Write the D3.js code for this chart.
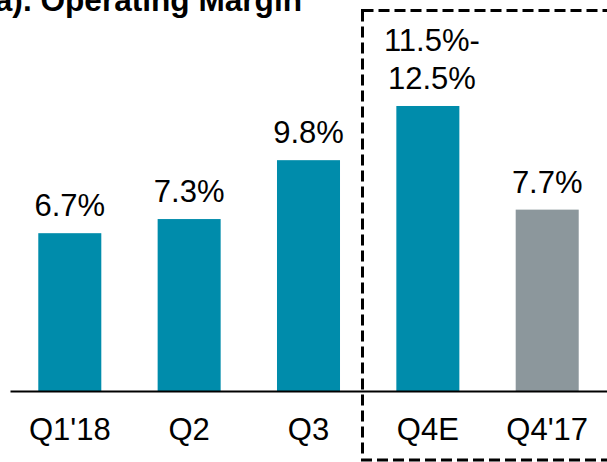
<!DOCTYPE html>
<html>
<head>
<meta charset="utf-8">
<script src="https://cdn.jsdelivr.net/npm/d3@7"></script>
<style>
  html, body { margin: 0; padding: 0; background: #fff; }
  svg { display: block; font-family: "Liberation Sans", Arial, sans-serif; }
</style>
</head>
<body>
<svg id="chart" width="607" height="462"></svg>
<script>
// ---- data ----
const categories = ["Q1'18", "Q2", "Q3", "Q4E", "Q4'17"];
const values = [6.7, 7.3, 9.8, 12.1, 7.7];
const valueLabels = [["6.7%"], ["7.3%"], ["9.8%"], ["11.5%-", "12.5%"], ["7.7%"]];
const barColors = ["#008CAB", "#008CAB", "#008CAB", "#008CAB", "#8C979C"];
const title = "(a). Operating Margin";

// ---- layout ----
const svg = d3.select("#chart");

const x = d3.scaleBand()
  .domain(categories)
  .range([10, 607])
  .paddingInner(0.472)
  .paddingOuter(0.237);

const y = d3.scaleLinear()
  .domain([0, 16.6])
  .range([391, 0]);

// title (clipped at top as in reference)
svg.append("text")
  .attr("x", 302)
  .attr("y", 10.5)
  .attr("text-anchor", "end")
  .attr("font-size", 31.6)
  .attr("font-weight", "bold")
  .attr("fill", "#000")
  .text(title);

// bars
svg.append("g").selectAll("rect")
  .data(categories)
  .join("rect")
  .attr("x", d => x(d))
  .attr("width", x.bandwidth())
  .attr("y", (d, i) => y(values[i]))
  .attr("height", (d, i) => y(0) - y(values[i]))
  .attr("fill", (d, i) => barColors[i]);

// value labels
const lbl = svg.append("g").selectAll("text")
  .data(categories)
  .join("text")
  .attr("text-anchor", "middle")
  .attr("font-size", 31)
  .attr("fill", "#000")
  .attr("transform", (d, i) => {
    const n = valueLabels[i].length;
    const cx = x(d) + x.bandwidth() / 2 + (n > 1 ? 4 : 0);
    return `translate(${cx},${y(values[i]) - 17 - (n - 1) * 38})`;
  });
lbl.each(function(d, i) {
  const t = d3.select(this);
  valueLabels[i].forEach((s, k) => {
    t.append("tspan").attr("x", 0).attr("y", k * 38).text(s);
  });
});

// x axis
const axis = svg.append("g")
  .attr("transform", `translate(0,${y(0)})`)
  .call(d3.axisBottom(x).tickSize(0).tickSizeOuter(0).tickPadding(0));
axis.select(".domain").attr("stroke", "#000").attr("stroke-width", 2);
axis.selectAll(".tick text")
  .attr("font-size", 31)
  .attr("font-family", "Liberation Sans, Arial, sans-serif")
  .attr("fill", "#000")
  .attr("dy", null)
  .attr("y", 49);

// dashed highlight box
svg.append("rect")
  .attr("x", 362.5)
  .attr("y", 10.5)
  .attr("width", 300)
  .attr("height", 449.5)
  .attr("fill", "none")
  .attr("stroke", "#000")
  .attr("stroke-width", 3)
  .attr("stroke-dasharray", "11,5");
</script>
</body>
</html>
